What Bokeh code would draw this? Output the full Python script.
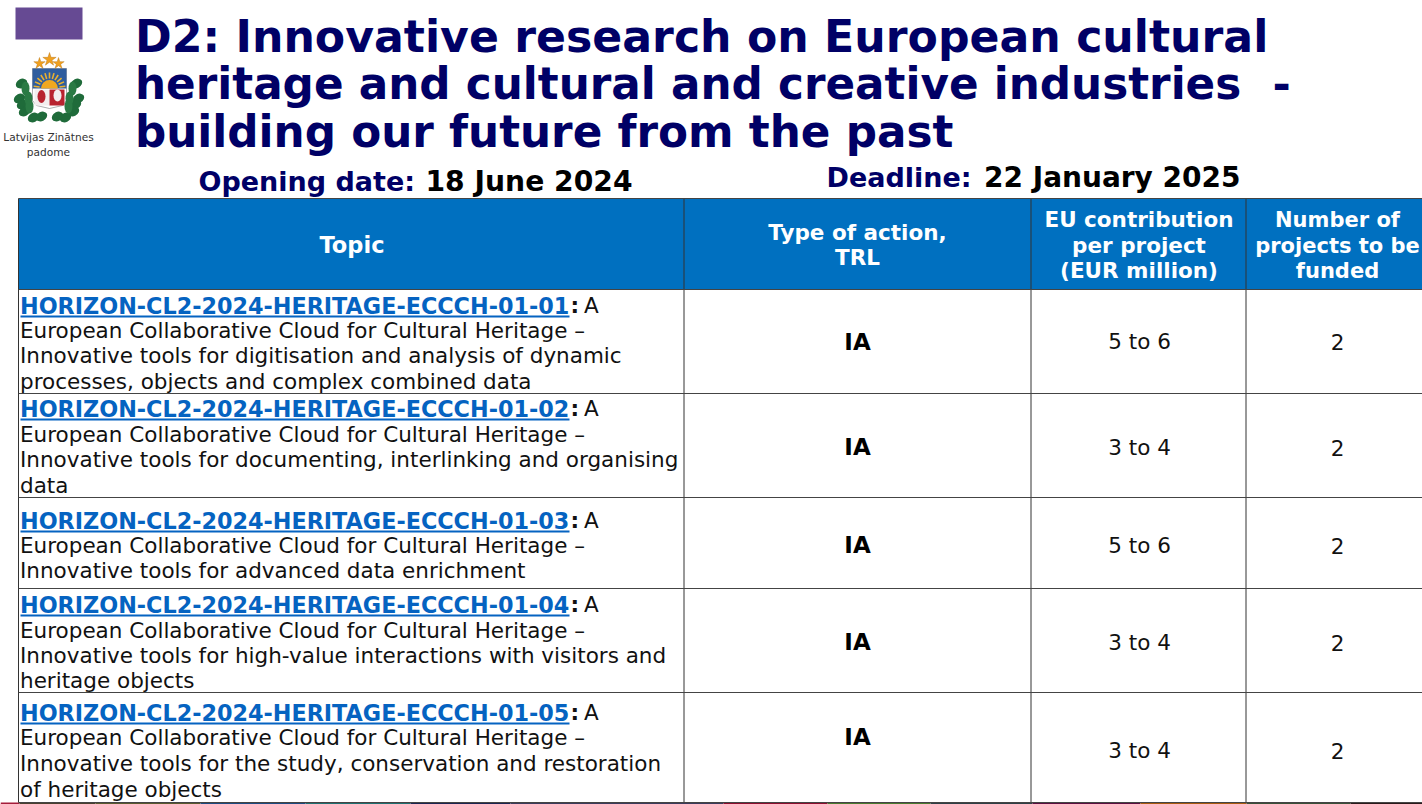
from bokeh.plotting import figure
from bokeh.embed import file_html
from bokeh.resources import INLINE
from bokeh.core.properties import value
from bokeh.models import Range1d
import math

title_lines = ["D2: Innovative research on European cultural",
               "heritage and cultural and creative industries",
               "building our future from the past"]
col_heads = [["Topic"], ["Type of action,", "TRL"],
             ["EU contribution", "per project", "(EUR million)"],
             ["Number of", "projects to be", "funded"]]
topic_ids = ["HORIZON-CL2-2024-HERITAGE-ECCCH-01-0%d" % i for i in range(1, 6)]
topic_text = [
    ["European Collaborative Cloud for Cultural Heritage \u2013",
     "Innovative tools for digitisation and analysis of dynamic",
     "processes, objects and complex combined data"],
    ["European Collaborative Cloud for Cultural Heritage \u2013",
     "Innovative tools for documenting, interlinking and organising",
     "data"],
    ["European Collaborative Cloud for Cultural Heritage \u2013",
     "Innovative tools for advanced data enrichment"],
    ["European Collaborative Cloud for Cultural Heritage \u2013",
     "Innovative tools for high-value interactions with visitors and",
     "heritage objects"],
    ["European Collaborative Cloud for Cultural Heritage \u2013",
     "Innovative tools for the study, conservation and restoration",
     "of heritage objects"],
]
action = ["IA", "IA", "IA", "IA", "IA"]
contribution = ["5 to 6", "3 to 4", "5 to 6", "3 to 4", "3 to 4"]
n_projects = ["2", "2", "2", "2", "2"]

# layout (reference pixels)
col_x = [18, 683.5, 1030.5, 1245.5, 1422]
row_y = [198, 289, 393, 497, 588, 692, 802]
line_ys = [[305, 330, 355, 381], [408, 434, 459, 485], [520, 545, 570],
           [604, 630, 655, 680], [712, 737, 763, 789]]
action_y = [341, 446, 544, 641, 736]
value_y = [341, 447, 545, 642, 750]
NAVY, BLUE, LINK = "#000066", "#0070c0", "#0563c1"
FONT = value("DejaVu Sans")

p = figure(width=1422, height=804, output_backend="svg", toolbar_location=None,
           x_range=Range1d(0, 1422), y_range=Range1d(804, 0), min_border=0,
           background_fill_color="white", border_fill_color="white")
p.axis.visible = False
p.grid.visible = False
p.outline_line_color = None


def txt(x, y, s, size, color="#111111", bold=False, align="left"):
    p.text([x], [y], text=[s], text_font=FONT, text_font_size=value(f"{size}px"),
           text_color=color, text_align=align, text_baseline="middle",
           text_font_style="bold" if bold else "normal")


# strip along the bottom of the slide
for x0, x1, c in [(0, 19, "#a51c3a"), (19, 95, "#4a4030"), (95, 200, "#5a5a30"),
                  (200, 305, "#1d4a80"), (305, 410, "#1f6f70"), (410, 510, "#1b2550"),
                  (510, 723, "#3b3b5b"), (723, 827, "#8b0f2f"), (827, 930, "#4a7a30"),
                  (930, 1032, "#2f3f45"), (1032, 1140, "#5a1040"), (1140, 1246, "#a85a10"),
                  (1246, 1350, "#3a5038"), (1350, 1422, "#2a1a1a")]:
    p.quad(left=[x0], right=[x1], top=[802], bottom=[804], fill_color=c, line_color=None)

# purple tab
p.quad(left=[15], right=[82], top=[7], bottom=[39], fill_color="#664a93", line_color=None)

# emblem
p.patch([32, 66, 66, 62, 49, 36, 32], [68, 68, 100, 105, 108, 105, 100], fill_color="#ffffff", line_color="#777777", line_width=0.6)
p.quad(left=[32], right=[66], top=[68], bottom=[88], fill_color="#2f5d9e", line_color=None)
for k in range(11):
    a = math.pi * (k + 0.5) / 11
    p.segment([49 - 10 * math.cos(a)], [88 - 10 * math.sin(a)], [49 - 16 * math.cos(a)], [88 - 16 * math.sin(a)],
              line_color="#e8b030", line_width=1.6)
p.wedge([49], [88], radius=8.5, start_angle=math.pi, end_angle=0, direction="clock",
        fill_color="#f0a820", line_color=None)
p.quad(left=[34], right=[49], top=[89], bottom=[105], fill_color="#f2eeee", line_color=None)
p.quad(left=[49], right=[64], top=[89], bottom=[105], fill_color="#b8232f", line_color=None)
p.ellipse([41], [96], width=8, height=13, fill_color="#b8232f", line_color=None)
p.ellipse([57], [95], width=8, height=12, fill_color="#f2eeee", line_color=None)
p.scatter([39, 49, 58], [63, 59, 63], size=[12, 14, 12], marker="star",
          fill_color="#f0a020", line_color="#b07010", line_width=0.4)
p.ellipse([21, 19, 22, 24, 33, 76, 78, 75, 73, 65, 41, 57],
          [83, 98, 104, 111, 117, 83, 98, 104, 111, 117, 116, 116],
          width=12, height=9, angle=0.5, fill_color="#1f6b3a", line_color=None)
p.ellipse([25, 28, 72, 69, 29, 68], [88, 98, 88, 98, 106, 106], width=8, height=14,
          fill_color="#2a7a44", line_color=None)
txt(48, 136, "Latvijas Zin\u0101tnes", 10.6, "#333333", align="center")
txt(48, 151, "padome", 10.6, "#333333", align="center")

# title
for y, s, fs in zip([36, 83, 131], title_lines, [44.2, 43.7, 43.7]):
    txt(134.5, y, s, fs, NAVY, True)
txt(1272, 83, "-", 44, NAVY, True)
txt(198, 181, "Opening date:", 27, NAVY, True)
txt(425, 181, "18 June 2024", 28.2, "#000000", True)
txt(826, 177, "Deadline:", 27, NAVY, True)
txt(983.5, 177, "22 January 2025", 28, "#000000", True)

# table header and grid
p.quad(left=[col_x[0]], right=[col_x[-1]], top=[row_y[0]], bottom=[row_y[1]],
       fill_color=BLUE, line_color=None)
p.multi_line([[x, x] for x in col_x[:-1]], [[row_y[0], row_y[-1]]] * 4, line_color="#333333", line_width=1)
p.multi_line([[col_x[0], col_x[-1]] for _ in row_y], [[y, y] for y in row_y], line_color="#444444", line_width=1.2)

head_ys = [[244], [232, 257], [219, 245, 270], [219, 245, 270]]
head_xs = [351.5, 857, 1138.5, 1337]
head_fs = [22.5, 21.5, 21.5, 21]
for hx, ys, lines, fs in zip(head_xs, head_ys, col_heads, head_fs):
    for y, s in zip(ys, lines):
        txt(hx, y, s, fs, "white", True, "center")

# rows
for i in range(5):
    ys = line_ys[i]
    txt(19.5, ys[0], topic_ids[i], 22.3, LINK, True)
    p.segment([20], [ys[0] + 11], [569], [ys[0] + 11], line_color=LINK, line_width=2)
    txt(570, ys[0], ":", 21.5, "#111111", True)
    txt(583.5, ys[0], "A", 21.5)
    for y, s in zip(ys[1:], topic_text[i]):
        txt(19.5, y, s, 21.5)
    txt(857, action_y[i], action[i], 23, "#000000", True, "center")
    txt(1139, value_y[i], contribution[i], 21.5, "#111111", False, "center")
    txt(1337, value_y[i], n_projects[i], 21.5, "#111111", False, "center")

open("out.html", "w").write(file_html(p, INLINE))
